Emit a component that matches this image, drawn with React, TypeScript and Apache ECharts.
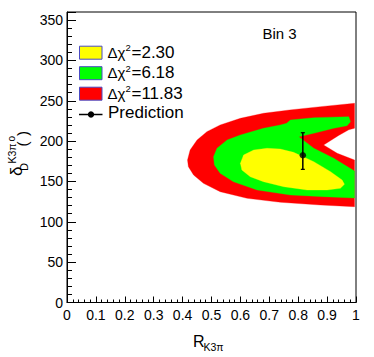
import React, { useEffect, useRef } from 'react';
import * as echarts from 'echarts';

// Contour regions (R_K3pi, delta_D in degrees)
const redContour: [number, number][] = [
  [0.995, 246.9], [0.877, 242.7], [0.77, 238.6], [0.68, 234.5], [0.6, 228.3], [0.53, 220.0],
  [0.484, 211.7], [0.45, 201.4], [0.426, 189.0], [0.417, 176.6], [0.42, 168.3], [0.438, 158.0],
  [0.472, 147.7], [0.53, 137.3], [0.623, 129.1], [0.738, 124.2], [0.877, 120.8], [0.995, 118.7],
  [0.995, 176.6], [0.935, 184.9], [0.888, 195.2], [0.94, 207.0], [0.975, 214.0], [0.995, 216.0],
];
const greenContour: [number, number][] = [
  [0.969, 219.1], [0.981, 224.1], [0.975, 230.3], [0.854, 229.1], [0.773, 226.2], [0.76, 222.0],
  [0.738, 220.0], [0.68, 215.9], [0.6, 207.6], [0.554, 201.4], [0.519, 191.1], [0.507, 180.7],
  [0.51, 170.4], [0.53, 160.1], [0.576, 149.7], [0.658, 139.4], [0.773, 133.2], [0.888, 131.1],
  [0.995, 129.5], [0.995, 163.0], [0.923, 178.7], [0.854, 191.1], [0.802, 205.5], [0.854, 209.7],
  [0.923, 215.9],
];
const yellowContour: [number, number][] = [
  [0.6, 172.5], [0.611, 182.8], [0.646, 189.0], [0.692, 191.1], [0.738, 190.2], [0.784, 186.1],
  [0.854, 174.5], [0.912, 162.1], [0.952, 151.8], [0.96, 146.5], [0.946, 141.5], [0.9, 139.4],
  [0.831, 139.4], [0.75, 143.5], [0.68, 149.7], [0.634, 155.9], [0.605, 164.2],
];

// Prediction point with asymmetric error
const predX = [0.816];
const predY = [182.5];
const predLow = [165];
const predHigh = [210.4];

const chi2Levels = ['2.30', '6.18', '11.83'];
const contourColors = ['#ffff00', '#00ff00', '#ff0000'];
const yTickLabels = [0, 50, 100, 150, 200, 250, 300, 350];

const FONT = 'Liberation Sans, Arial, Helvetica, sans-serif';

function polygonSeries(name: string, pts: [number, number][], color: string) {
  return {
    type: 'custom',
    name,
    coordinateSystem: 'cartesian2d',
    xAxisIndex: 0,
    yAxisIndex: 0,
    data: pts,
    encode: { x: 0, y: 1 },
    silent: true,
    renderItem: (params: any, api: any) => {
      if (params.dataIndex !== 0) return null;
      const points = pts.map((p) => api.coord(p));
      return { type: 'polygon', shape: { points }, style: { fill: color, stroke: color, lineWidth: 0.3 } };
    },
  };
}

export default function App() {
  const ref = useRef<HTMLDivElement>(null);
  useEffect(() => {
    if (!ref.current) return;
    const chart = echarts.init(ref.current, null, { renderer: 'svg' });

    const legendGraphics: any[] = [];
    const rowY = [52.7, 73.2, 93.7];
    chi2Levels.forEach((lv, i) => {
      const cy = rowY[i];
      legendGraphics.push({
        type: 'rect',
        shape: { x: 79.5, y: cy - 6.5, width: 22.5, height: 13 },
        style: { fill: contourColors[i], stroke: '#4b4bc4', lineWidth: 1 },
      });
      legendGraphics.push({
        type: 'text', x: 107.5, y: cy - 0.5,
        style: { text: 'Δχ', fontSize: 15, fontFamily: FONT, fill: '#000', align: 'left', verticalAlign: 'middle' },
      });
      legendGraphics.push({
        type: 'text', x: 125.6, y: cy - 5,
        style: { text: '2', fontSize: 9.5, fontFamily: FONT, fill: '#000', align: 'left', verticalAlign: 'middle' },
      });
      legendGraphics.push({
        type: 'text', x: 131.5, y: cy - 0.7,
        style: { text: '=' + lv, fontSize: 17, fontFamily: FONT, fill: '#000', align: 'left', verticalAlign: 'middle' },
      });
    });
    legendGraphics.push({
      type: 'line', shape: { x1: 79, y1: 114.5, x2: 102.5, y2: 114.5 }, style: { stroke: '#000', lineWidth: 1.5 },
    });
    legendGraphics.push({
      type: 'circle', shape: { cx: 91, cy: 114.5, r: 3.2 }, style: { fill: '#000' },
    });
    legendGraphics.push({
      type: 'text', x: 108, y: 112.6,
      style: { text: 'Prediction', fontSize: 17, fontFamily: FONT, fill: '#000', align: 'left', verticalAlign: 'middle' },
    });

    const rot = Math.PI / 2;
    const yTitle: any[] = [
      { type: 'text', x: 16, y: 176, rotation: rot, style: { text: 'δ', fontSize: 17, fontFamily: FONT, fill: '#000', align: 'left', verticalAlign: 'middle' } },
      { type: 'text', x: 23.8, y: 171, rotation: rot, style: { text: 'D', fontSize: 11, fontFamily: FONT, fill: '#000', align: 'left', verticalAlign: 'middle' } },
      { type: 'text', x: 11.5, y: 163.5, rotation: rot, style: { text: 'K3π', fontSize: 10.5, fontFamily: FONT, fill: '#000', align: 'left', verticalAlign: 'middle' } },
      { type: 'text', x: 22.5, y: 146.5, rotation: rot, style: { text: '(', fontSize: 15, fontFamily: FONT, fill: '#000', align: 'left', verticalAlign: 'middle' } },
      { type: 'text', x: 11, y: 141.5, rotation: rot, style: { text: 'o', fontSize: 10, fontFamily: FONT, fill: '#000', align: 'left', verticalAlign: 'middle' } },
      { type: 'text', x: 22.5, y: 136, rotation: rot, style: { text: ')', fontSize: 15, fontFamily: FONT, fill: '#000', align: 'left', verticalAlign: 'middle' } },
    ];
    const xTitle: any[] = [
      { type: 'text', x: 193, y: 341, style: { text: 'R', fontSize: 16, fontFamily: FONT, fill: '#000', align: 'left', verticalAlign: 'middle' } },
      { type: 'text', x: 203.5, y: 346.8, style: { text: 'K3π', fontSize: 10.5, fontFamily: FONT, fill: '#000', align: 'left', verticalAlign: 'middle' } },
    ];

    chart.setOption({
      animation: false,
      textStyle: { fontFamily: FONT },
      grid: { left: 67, top: 12, width: 289, height: 290.5, show: true, borderColor: '#000', borderWidth: 1, backgroundColor: 'transparent' },
      xAxis: {
        type: 'value', min: 0, max: 1, interval: 0.1,
        axisLine: { show: true, onZero: false, lineStyle: { color: '#000', width: 1 } },
        axisTick: { show: true, inside: true, length: 6, lineStyle: { color: '#000' } },
        minorTick: { show: true, splitNumber: 5, length: 3, lineStyle: { color: '#000' } },
        axisLabel: { fontSize: 14, color: '#000', margin: 5, fontFamily: FONT },
        splitLine: { show: false },
      },
      yAxis: [
        {
          type: 'value', min: 0, max: 360, interval: 10, position: 'left',
          axisLine: { show: true, onZero: false, lineStyle: { color: '#000', width: 1 } },
          axisTick: { show: true, inside: true, length: 5, lineStyle: { color: '#000' } },
          axisLabel: {
            fontSize: 14, color: '#000', margin: 4, fontFamily: FONT,
            formatter: (v: number) => (yTickLabels.indexOf(v) >= 0 ? String(v) : ''),
          },
          splitLine: { show: false },
        },
        {
          type: 'value', min: 0, max: 360, interval: 50, position: 'left',
          axisLine: { show: false },
          axisTick: { show: true, inside: true, length: 9, lineStyle: { color: '#000' } },
          axisLabel: { show: false },
          splitLine: { show: false },
        },
      ],
      series: [
        polygonSeries('Δχ2=' + chi2Levels[2], redContour, contourColors[2]),
        polygonSeries('Δχ2=' + chi2Levels[1], greenContour, contourColors[1]),
        polygonSeries('Δχ2=' + chi2Levels[0], yellowContour, contourColors[0]),
        {
          type: 'custom',
          name: 'Prediction error',
          coordinateSystem: 'cartesian2d',
          data: predX.map((x, i) => [x, predLow[i], predHigh[i]]),
          encode: { x: 0, y: [1, 2] },
          silent: true,
          renderItem: (params: any, api: any) => {
            const lo = api.coord([api.value(0), api.value(1)]);
            const hi = api.coord([api.value(0), api.value(2)]);
            const cap = 2;
            return {
              type: 'group',
              children: [
                { type: 'line', shape: { x1: lo[0], y1: lo[1], x2: hi[0], y2: hi[1] }, style: { stroke: '#000', lineWidth: 1.5 } },
                { type: 'line', shape: { x1: lo[0] - cap, y1: lo[1], x2: lo[0] + cap, y2: lo[1] }, style: { stroke: '#000', lineWidth: 1.2 } },
                { type: 'line', shape: { x1: hi[0] - cap, y1: hi[1], x2: hi[0] + cap, y2: hi[1] }, style: { stroke: '#000', lineWidth: 1.2 } },
              ],
            };
          },
        },
        {
          type: 'scatter',
          name: 'Prediction',
          data: predX.map((x, i) => [x, predY[i]]),
          symbol: 'circle',
          symbolSize: 6.5,
          itemStyle: { color: '#000' },
          silent: true,
        },
      ],
      graphic: [
        ...legendGraphics,
        { type: 'text', x: 262.5, y: 33.5, style: { text: 'Bin 3', fontSize: 15, fontFamily: FONT, fill: '#000', align: 'left', verticalAlign: 'middle' } },
        ...yTitle,
        ...xTitle,
      ],
    });
    return () => chart.dispose();
  }, []);
  return <div ref={ref} style={{ position: 'fixed', left: 0, top: 0, width: 374, height: 357, background: '#fff' }} />;
}
